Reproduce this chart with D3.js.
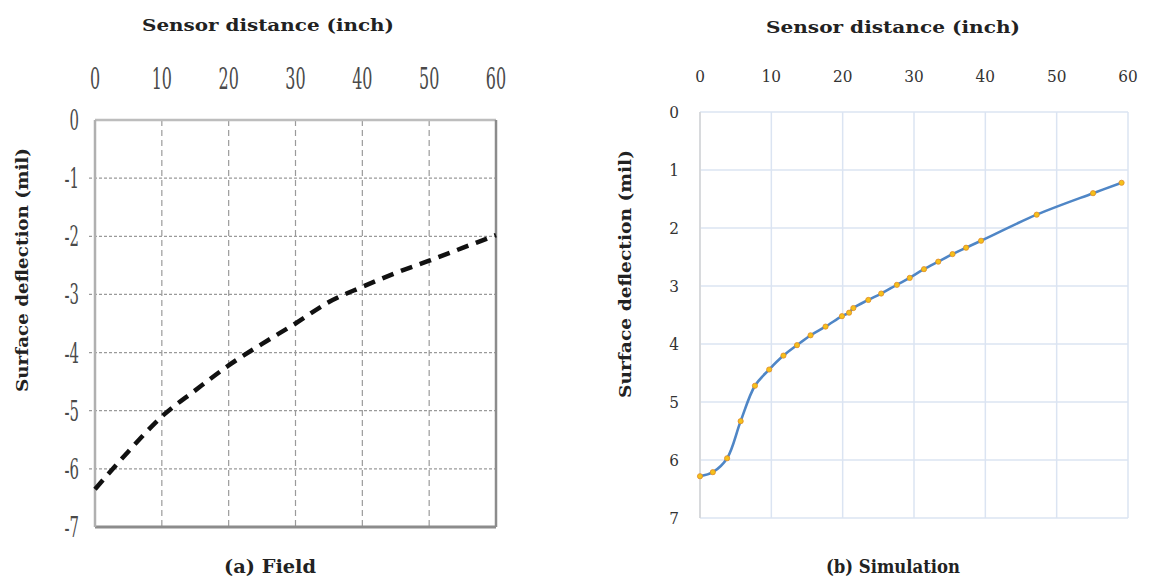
<!DOCTYPE html>
<html>
<head>
<meta charset="utf-8">
<script src="https://cdnjs.cloudflare.com/ajax/libs/d3/7.8.5/d3.min.js"></script>
<style>
  body { margin: 0; background: #fff; }
</style>
</head>
<body>
<svg id="chart" width="1156" height="581"></svg>
<script>
// field measurement (a)
var fieldDist = [0, 5, 10, 15, 20, 25, 30, 35, 40, 45, 50, 55, 60]
var fieldDefl = [-6.35, -5.7, -5.1, -4.65, -4.22, -3.85, -3.5, -3.13, -2.87, -2.63, -2.42, -2.2, -1.98]
var fieldXTicks = [0, 10, 20, 30, 40, 50, 60]
var fieldYTicks = [0, -1, -2, -3, -4, -5, -6, -7]

// simulation (b)
var simDist = [0, 1.8, 3.8, 5.7, 7.7, 9.7, 11.7, 13.6, 15.5, 17.6, 19.9, 20.9, 21.5, 23.6, 25.4, 27.6, 29.4, 31.4, 33.4, 35.4, 37.3, 39.4, 47.2, 55.1, 59.1]
var simDefl = [6.28, 6.21, 5.97, 5.33, 4.72, 4.44, 4.2, 4.02, 3.85, 3.7, 3.52, 3.46, 3.38, 3.24, 3.13, 2.98, 2.86, 2.71, 2.58, 2.45, 2.34, 2.22, 1.77, 1.4, 1.22]
var simXTicks = [0, 10, 20, 30, 40, 50, 60]
var simYTicks = [0, 1, 2, 3, 4, 5, 6, 7]

var serif = "'DejaVu Serif', 'Liberation Serif', 'Times New Roman', serif"
var svg = d3.select('#chart').attr('font-family', serif)

// bold title, fitted to the width seen in the picture
function caption(g, x, y, str, len, size, rot) {
  var t = g.append('text')
    .attr('text-anchor', 'middle')
    .attr('font-size', size).attr('font-weight', 'bold')
    .attr('fill', '#222')
    .attr('textLength', len).attr('lengthAdjust', 'spacingAndGlyphs')
    .text(str)
  if (rot) t.attr('transform', 'translate(' + x + ',' + y + ') rotate(-90)')
  else t.attr('x', x).attr('y', y)
  return t
}

// ---------- (a) Field ----------
var ax = d3.scaleLinear().domain([0, 60]).range([95, 496])
var ay = d3.scaleLinear().domain([0, -7]).range([120, 527])
var ga = svg.append('g')

ga.selectAll('.hgrid').data(fieldYTicks.slice(1, -1)).enter()
  .append('line')
  .attr('x1', ax(0) - 6).attr('x2', ax(60))
  .attr('y1', function(d){ return ay(d) }).attr('y2', function(d){ return ay(d) })
  .attr('stroke', '#9a9a9a').attr('stroke-width', 1.2)
  .attr('stroke-dasharray', '3,2')

ga.selectAll('.vgrid').data(fieldXTicks.slice(1, -1)).enter()
  .append('line')
  .attr('x1', function(d){ return ax(d) }).attr('x2', function(d){ return ax(d) })
  .attr('y1', ay(0)).attr('y2', ay(-7))
  .attr('stroke', '#9a9a9a').attr('stroke-width', 1.2)
  .attr('stroke-dasharray', '6,4')

// frame
ga.append('line').attr('x1', ax(0)).attr('x2', ax(60)).attr('y1', ay(0)).attr('y2', ay(0))
  .attr('stroke', '#bdbdbd').attr('stroke-width', 2.5)
ga.append('line').attr('x1', ax(0)).attr('x2', ax(60)).attr('y1', ay(-7)).attr('y2', ay(-7))
  .attr('stroke', '#8c8c8c').attr('stroke-width', 3)
ga.append('line').attr('x1', ax(0)).attr('x2', ax(0)).attr('y1', ay(0)).attr('y2', ay(-7))
  .attr('stroke', '#b0b0b0').attr('stroke-width', 2.5)
ga.append('line').attr('x1', ax(60)).attr('x2', ax(60)).attr('y1', ay(0)).attr('y2', ay(-7))
  .attr('stroke', '#8c8c8c').attr('stroke-width', 2.5)

var fieldLine = d3.line()
  .x(function(d, i){ return ax(fieldDist[i]) })
  .y(function(d){ return ay(d) })
  .curve(d3.curveMonotoneX)

ga.append('path')
  .attr('d', fieldLine(fieldDefl))
  .attr('fill', 'none')
  .attr('stroke', '#111')
  .attr('stroke-width', 4.5)
  .attr('stroke-dasharray', '12,8')

// condensed serif tick labels
ga.selectAll('.xt').data(fieldXTicks).enter()
  .append('text')
  .attr('transform', function(d){ return 'translate(' + ax(d) + ',89) scale(0.55,1)' })
  .attr('text-anchor', 'middle')
  .attr('font-size', 29)
  .attr('fill', '#4a4a4a')
  .text(function(d){ return d })

ga.selectAll('.yt').data(fieldYTicks).enter()
  .append('text')
  .attr('transform', function(d){ return 'translate(79,' + (ay(d) + 10) + ') scale(0.55,1)' })
  .attr('text-anchor', 'end')
  .attr('font-size', 27)
  .attr('fill', '#4a4a4a')
  .text(function(d){ return d })

caption(ga, 268, 31, 'Sensor distance (inch)', 252, 17)
caption(ga, 28, 270, 'Surface deflection (mil)', 244, 17, true)
caption(ga, 270, 573, '(a) Field', 92, 19)

// ---------- (b) Simulation ----------
var bx = d3.scaleLinear().domain([0, 60]).range([700, 1128])
var by = d3.scaleLinear().domain([0, 7]).range([112, 518])
var gb = svg.append('g')

gb.selectAll('.hgrid').data(simYTicks).enter()
  .append('line')
  .attr('x1', bx(0)).attr('x2', bx(60))
  .attr('y1', function(d){ return by(d) }).attr('y2', function(d){ return by(d) })
  .attr('stroke', '#dbe4f2').attr('stroke-width', 1.5)

gb.selectAll('.vgrid').data(simXTicks).enter()
  .append('line')
  .attr('x1', function(d){ return bx(d) }).attr('x2', function(d){ return bx(d) })
  .attr('y1', by(0)).attr('y2', by(7))
  .attr('stroke', '#dbe4f2').attr('stroke-width', 1.5)

gb.append('line').attr('x1', bx(0)).attr('x2', bx(0)).attr('y1', by(0)).attr('y2', by(7))
  .attr('stroke', '#d4d4d4').attr('stroke-width', 1.5)

var simLine = d3.line()
  .x(function(d, i){ return bx(simDist[i]) })
  .y(function(d){ return by(d) })
  .curve(d3.curveCatmullRom.alpha(0.5))

gb.append('path')
  .attr('d', simLine(simDefl))
  .attr('fill', 'none')
  .attr('stroke', '#4f86c6')
  .attr('stroke-width', 2.6)

gb.selectAll('.pt').data(simDefl).enter()
  .append('circle')
  .attr('cx', function(d, i){ return bx(simDist[i]) })
  .attr('cy', function(d){ return by(d) })
  .attr('r', 2.6)
  .attr('fill', '#f5c11a')
  .attr('stroke', '#e08a2a')
  .attr('stroke-width', 0.8)

gb.selectAll('.xt').data(simXTicks).enter()
  .append('text')
  .attr('transform', function(d){ return 'translate(' + bx(d) + ',82) scale(0.9,1)' })
  .attr('text-anchor', 'middle')
  .attr('font-size', 17)
  .attr('fill', '#333')
  .text(function(d){ return d })

gb.selectAll('.yt').data(simYTicks).enter()
  .append('text')
  .attr('transform', function(d){ return 'translate(679,' + (by(d) + 6) + ') scale(0.9,1)' })
  .attr('text-anchor', 'end')
  .attr('font-size', 17)
  .attr('fill', '#333')
  .text(function(d){ return d })

caption(gb, 893, 33, 'Sensor distance (inch)', 254, 17)
caption(gb, 631, 274, 'Surface deflection (mil)', 248, 17, true)
caption(gb, 893, 573, '(b) Simulation', 134, 18)
</script>
</body>
</html>
